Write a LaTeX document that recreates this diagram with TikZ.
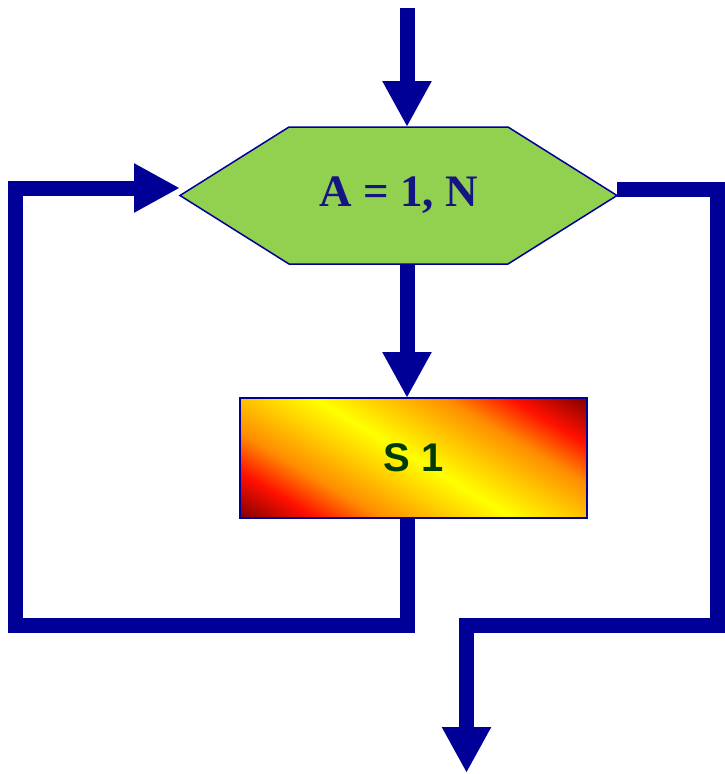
\documentclass[tikz,border=0pt]{standalone}
\usepackage{fontspec}
\setmainfont{Liberation Serif}
\setsansfont{Liberation Sans}
\usetikzlibrary{arrows.meta,shapes.symbols}
\definecolor{flowblue}{RGB}{0,0,150}
\definecolor{hexgreen}{RGB}{146,208,80}
\definecolor{hextext}{RGB}{20,20,130}
\definecolor{s1text}{RGB}{0,60,10}
\definecolor{fdark}{RGB}{128,0,0}
\definecolor{fred}{RGB}{255,16,0}
\definecolor{forange}{RGB}{255,140,0}
\definecolor{fgold}{RGB}{255,200,0}
\definecolor{fyellow}{RGB}{255,255,0}
% corners of the box map to 25bp and 75bp
\pgfdeclarehorizontalshading{fire}{100bp}{color(0bp)=(fdark); color(25bp)=(fdark); color(32bp)=(fred); color(38bp)=(forange); color(44bp)=(fgold); color(50bp)=(fyellow); color(56bp)=(fgold); color(62bp)=(forange); color(68bp)=(fred); color(75bp)=(fdark); color(100bp)=(fdark)}
\tikzset{
  flow/.style={draw=flowblue, line width=15pt, line join=miter, line cap=butt},
  flowarrow/.style={flow, -{Triangle[length=46pt,width=46pt]}},
  hexbox/.style={shape=signal, signal to=west and east, signal pointer angle=64.3,
    minimum width=437pt, minimum height=137pt, inner sep=0pt, outer sep=0pt,
    fill=hexgreen, draw=flowblue, line width=1.5pt,
    font=\bfseries\fontsize{45}{50}\selectfont, text=hextext},
  firebox/.style={rectangle, minimum width=347pt, minimum height=120pt, inner sep=0pt, outer sep=0pt,
    draw=flowblue, line width=1.5pt,
    font=\sffamily\bfseries\fontsize{40}{46}\selectfont, text=s1text,
    path picture={
      \coordinate (fc) at (path picture bounding box.center);
      \shade[shading=fire, transform canvas={rotate around={59:(fc)}}]
        ([shift={(-140.8,-260)}]fc) rectangle ([shift={(140.8,260)}]fc);
    }}
}
\begin{document}
\begin{tikzpicture}[x=1pt,y=-1pt]
\useasboundingbox (0,0) rectangle (725,774);
\node[hexbox] (hex) at (398.5,195.5) {A = 1, N};
\node[firebox] (s1) at (413.5,458) {S 1};
\coordinate (top) at (407,8);
\coordinate (lb) at (15.5,625.5);
\coordinate (lt) at (15.5,188);
\coordinate (rt) at (717,189);
\coordinate (rb) at (717,625.5);
\coordinate (ob) at (466.5,625.5);
\coordinate (out) at (466.5,773);
\draw[flowarrow] (top) -- (top |- hex.north);
\draw[flowarrow] (top |- hex.south) -- (top |- s1.north);
\draw[flowarrow] (top |- s1.south) -- (top |- lb) -- (lb) -- (lt) -- (lt -| hex.west);
\draw[flowarrow] (hex.east |- rt) -- (rt) -- (rb) -- (ob) -- (out);
\end{tikzpicture}
\end{document}
